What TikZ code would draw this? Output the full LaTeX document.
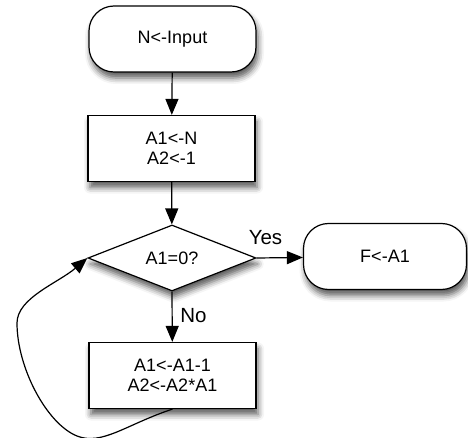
\documentclass[tikz,border=0pt]{standalone}
\usepackage{fontspec}
\setmainfont{Liberation Sans}
\usetikzlibrary{shapes.geometric,arrows.meta,shadows.blur}

\begin{document}
\begin{tikzpicture}[x=1pt,y=-1pt,
  every node/.style={font=\fontsize{18}{20}\selectfont},
  softshadow/.style={blur shadow={shadow xshift=2pt,shadow yshift=-6pt,
      shadow blur radius=6pt,shadow opacity=65}},
  term/.style={draw,line width=1.2pt,fill=white,rounded corners=25pt,
      minimum width=167pt,minimum height=66pt,softshadow},
  proc/.style={draw,line width=1.2pt,fill=white,align=center,
      minimum width=167pt,minimum height=66pt,softshadow},
  dec/.style={draw,diamond,line width=1.2pt,fill=white,aspect=2.5,
      inner sep=0pt,minimum width=168pt,minimum height=66pt,softshadow},
  flow/.style={line width=1.2pt,-{Triangle[length=16pt,width=13pt]}},
  lbl/.style={inner sep=0pt,font=\fontsize{20.5}{22}\selectfont}
]
\useasboundingbox (0,0) rectangle (468,438);

% nodes of the flowchart
\node[term] (start) at (172.5,39) {N<-Input};
\node[proc] (init)  at (171.5,148.5) {A1<-N\\A2<-1};
\node[dec]  (test)  at (172,258) {A1=0?};
\node[term, minimum width=163pt] (done) at (385,256.5) {F<-A1};
\node[proc] (step)  at (172.5,375.5) {A1<-A1-1\\A2<-A2*A1};

% straight connectors
\draw[flow] (start) -- (init);
\draw[flow] (init) -- (test);
\draw[flow] (test.east) -- (done);
\draw[flow] (test.south) -- (step);

% branch labels
\node[lbl] (yes) at (265.5,238) {Yes};
\node[lbl] (no)  at (193.5,315.5) {No};

% loop back from the update box to the test
\coordinate (lowbend) at (77,436);
\coordinate (leftbend) at (17,323);
\draw[flow] (step.south)
  .. controls (127,424) and (102,446) .. (lowbend)
  .. controls (47,424) and (17,368) .. (leftbend)
  .. controls (17,298) and (58,283) .. (test.west);
\end{tikzpicture}
\end{document}
